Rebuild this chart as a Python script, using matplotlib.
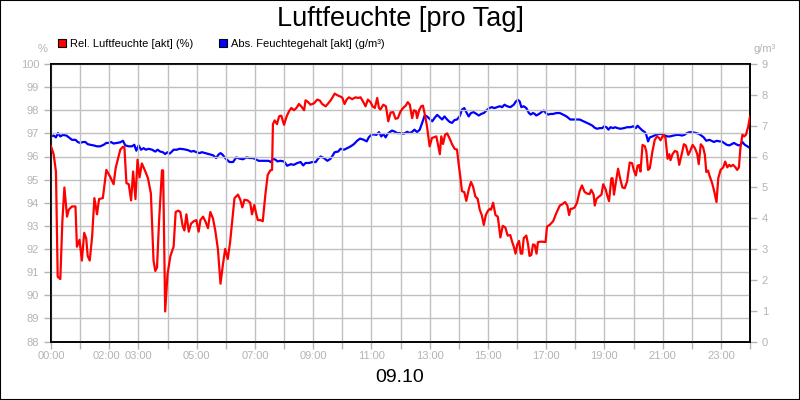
import matplotlib
matplotlib.use('Agg')
from matplotlib import pyplot as plt
from matplotlib.patches import Patch, Rectangle
from matplotlib.transforms import ScaledTranslation

plt.rcParams['font.family'] = ['Liberation Sans', 'DejaVu Sans']

# Rel. Luftfeuchte (%) - hour of day, value
rel_h = [0.0, 0.09, 0.17, 0.23, 0.32, 0.39, 0.46, 0.55, 0.61, 0.72, 0.84, 0.89,
         0.98, 1.06, 1.14, 1.21, 1.26, 1.33, 1.41, 1.49, 1.58, 1.65, 1.78, 1.9,
         2.04, 2.15, 2.22, 2.38, 2.47, 2.52, 2.59, 2.67, 2.75, 2.82, 2.9, 2.97,
         3.04, 3.12, 3.24, 3.33, 3.43, 3.52, 3.58, 3.64, 3.71, 3.81, 3.85, 3.92,
         4.0, 4.1, 4.21, 4.28, 4.37, 4.44, 4.52, 4.58, 4.65, 4.73, 4.81, 4.9,
         4.99, 5.07, 5.13, 5.22, 5.3, 5.39, 5.47, 5.56, 5.64, 5.73, 5.82, 5.9,
         5.98, 6.07, 6.15, 6.3, 6.42, 6.5, 6.57, 6.64, 6.75, 6.84, 6.9, 6.98,
         7.04, 7.1, 7.19, 7.27, 7.36, 7.44, 7.53, 7.59, 7.62, 7.68, 7.76, 7.83,
         7.87, 7.91, 8.0, 8.09, 8.17, 8.25, 8.34, 8.43, 8.51, 8.59, 8.69, 8.74,
         8.82, 8.91, 9.03, 9.14, 9.23, 9.31, 9.43, 9.52, 9.62, 9.74, 9.83, 9.92,
         10.0, 10.08, 10.15, 10.23, 10.34, 10.46, 10.54, 10.63, 10.72, 10.8, 10.88,
         10.97, 11.04, 11.12, 11.2, 11.26, 11.31, 11.41, 11.5, 11.58, 11.66, 11.75,
         11.83, 11.91, 12.0, 12.09, 12.18, 12.25, 12.32, 12.4, 12.46, 12.53, 12.57,
         12.64, 12.71, 12.77, 12.85, 12.91, 13.0, 13.08, 13.16, 13.23, 13.29, 13.35,
         13.4, 13.46, 13.53, 13.6, 13.69, 13.77, 13.86, 13.94, 14.0, 14.06, 14.11,
         14.19, 14.26, 14.34, 14.42, 14.49, 14.57, 14.65, 14.72, 14.79, 14.86,
         14.93, 15.0, 15.07, 15.11, 15.18, 15.26, 15.34, 15.43, 15.51, 15.6, 15.68,
         15.77, 15.83, 15.89, 15.95, 16.01, 16.07, 16.13, 16.18, 16.23, 16.32,
         16.38, 16.43, 16.49, 16.55, 16.61, 16.67, 16.72, 16.84, 16.98, 17.03,
         17.12, 17.24, 17.35, 17.47, 17.56, 17.65, 17.73, 17.79, 17.84, 17.9,
         17.98, 18.06, 18.15, 18.23, 18.32, 18.4, 18.49, 18.55, 18.63, 18.67,
         18.73, 18.82, 18.9, 18.96, 19.05, 19.09, 19.16, 19.24, 19.28, 19.33,
         19.39, 19.47, 19.55, 19.62, 19.7, 19.78, 19.87, 19.95, 20.01, 20.08,
         20.14, 20.19, 20.24, 20.31, 20.39, 20.44, 20.5, 20.56, 20.65, 20.73,
         20.81, 20.88, 20.93, 21.02, 21.1, 21.17, 21.23, 21.27, 21.34, 21.42,
         21.5, 21.57, 21.65, 21.73, 21.8, 21.88, 21.94, 22.03, 22.11, 22.19,
         22.24, 22.31, 22.39, 22.45, 22.5, 22.56, 22.62, 22.7, 22.77, 22.85,
         22.91, 22.99, 23.08, 23.15, 23.22, 23.29, 23.34, 23.42, 23.5, 23.56,
         23.62, 23.67, 23.74, 23.8, 23.86, 23.94, 24.0]
rel_v = [96.44, 96.1, 95.35, 90.8, 90.7, 93.2, 94.66, 93.4, 93.7, 93.84, 93.84, 92.1,
         92.4, 91.5, 92.7, 92.45, 91.7, 91.5, 92.5, 94.2, 93.5, 94.16, 94.2, 95.42,
         95.1, 94.8, 95.5, 96.3, 96.42, 96.4, 94.85, 94.8, 94.1, 95.35, 94.16, 95.86,
         95.1, 95.7, 95.35, 95.06, 94.4, 91.5, 91.05, 91.2, 93.2, 95.4, 95.4, 89.3,
         90.9, 91.7, 92.1, 93.6, 93.66, 93.6, 93.0, 92.8, 93.5, 92.75, 93.1, 93.2,
         93.25, 92.75, 93.25, 93.4, 93.2, 92.9, 93.6, 93.33, 92.8, 92.0, 90.5, 91.3,
         92.0, 91.57, 92.3, 94.2, 94.35, 94.13, 93.8, 94.13, 94.1, 94.0, 93.5, 93.9,
         93.55, 93.25, 93.25, 93.2, 94.35, 95.2, 95.4, 95.42, 97.4, 97.56, 97.4, 97.73,
         97.76, 97.76, 97.37, 97.73, 97.95, 98.1, 98.0, 98.1, 98.27, 98.17, 98.0, 98.43,
         98.36, 98.24, 98.3, 98.46, 98.42, 98.27, 98.17, 98.3, 98.46, 98.72, 98.65,
         98.6, 98.55, 98.27, 98.46, 98.56, 98.48, 98.56, 98.53, 98.56, 98.36, 98.17,
         98.46, 98.35, 98.17, 98.1, 98.53, 98.1, 98.03, 98.24, 98.17, 97.52, 97.9,
         97.92, 97.63, 97.66, 97.95, 98.1, 98.2, 98.35, 98.24, 97.66, 98.0, 97.96,
         97.66, 98.0, 98.17, 98.2, 97.73, 97.3, 96.44, 96.8, 96.84, 96.87, 96.5,
         96.1, 96.87, 96.54, 96.94, 97.0, 96.77, 96.53, 96.33, 96.3, 95.64, 95.06,
         94.5, 94.46, 94.08, 94.56, 94.9, 94.7, 94.27, 94.17, 93.7, 93.47, 93.04,
         93.47, 93.65, 93.74, 93.7, 94.0, 93.47, 93.4, 92.5, 93.0, 92.93, 92.58,
         92.6, 92.32, 92.1, 91.8, 92.2, 92.35, 91.8, 91.8, 92.47, 92.58, 92.2,
         91.7, 91.74, 92.2, 92.17, 91.8, 92.3, 92.32, 92.3, 92.97, 93.04, 93.2,
         93.55, 93.88, 93.94, 94.03, 93.88, 93.47, 93.74, 93.74, 93.8, 94.0, 94.5,
         94.75, 94.47, 94.4, 94.37, 94.56, 94.36, 93.88, 94.17, 94.27, 94.35, 94.8,
         94.56, 94.35, 94.07, 95.06, 95.06, 94.35, 94.85, 95.47, 95.0, 94.66, 94.63,
         94.92, 95.74, 95.71, 95.42, 95.18, 95.6, 95.63, 95.35, 96.5, 96.44, 96.22,
         95.42, 95.49, 96.22, 96.72, 96.87, 96.8, 96.7, 96.94, 96.8, 95.9, 96.1,
         95.84, 96.1, 96.24, 96.2, 95.64, 96.07, 96.53, 96.47, 96.07, 96.22, 96.5,
         96.36, 96.1, 95.67, 96.53, 96.4, 96.07, 95.33, 95.39, 95.13, 94.85, 94.5,
         94.03, 95.06, 95.42, 95.53, 95.78, 95.53, 95.64, 95.57, 95.64, 95.53,
         95.42, 95.53, 96.36, 96.94, 96.87, 96.94, 97.3, 97.73]

# Abs. Feuchtegehalt (g/m³)
abs_h = [0.0, 0.09, 0.17, 0.24, 0.32, 0.41, 0.53, 0.61, 0.72, 0.84, 0.92, 1.0,
         1.1, 1.18, 1.26, 1.35, 1.46, 1.58, 1.69, 1.81, 1.9, 1.98, 2.06, 2.15,
         2.27, 2.38, 2.47, 2.55, 2.67, 2.78, 2.86, 2.93, 3.01, 3.09, 3.18, 3.26,
         3.35, 3.47, 3.58, 3.66, 3.75, 3.84, 3.92, 4.0, 4.07, 4.15, 4.21, 4.32,
         4.41, 4.53, 4.64, 4.72, 4.81, 4.9, 4.99, 5.1, 5.18, 5.3, 5.41, 5.49,
         5.58, 5.67, 5.75, 5.82, 5.89, 5.98, 6.13, 6.25, 6.36, 6.48, 6.59, 6.71,
         6.82, 6.94, 7.05, 7.13, 7.24, 7.36, 7.47, 7.55, 7.62, 7.7, 7.78, 7.87,
         8.0, 8.11, 8.23, 8.34, 8.46, 8.57, 8.66, 8.74, 8.86, 8.97, 9.09, 9.17,
         9.26, 9.37, 9.49, 9.6, 9.69, 9.74, 9.86, 9.94, 10.06, 10.17, 10.29,
         10.4, 10.51, 10.61, 10.72, 10.84, 10.91, 10.99, 11.08, 11.17, 11.26,
         11.34, 11.41, 11.49, 11.55, 11.63, 11.71, 11.77, 11.89, 12.0, 12.11,
         12.23, 12.32, 12.4, 12.48, 12.57, 12.66, 12.74, 12.83, 12.91, 13.0,
         13.09, 13.17, 13.26, 13.35, 13.43, 13.51, 13.6, 13.69, 13.77, 13.85,
         13.94, 14.03, 14.11, 14.19, 14.26, 14.34, 14.42, 14.51, 14.61, 14.69,
         14.77, 14.86, 14.95, 15.04, 15.14, 15.22, 15.31, 15.41, 15.49, 15.57,
         15.66, 15.77, 15.89, 15.95, 16.03, 16.09, 16.15, 16.23, 16.32, 16.41,
         16.47, 16.55, 16.61, 16.66, 16.76, 16.84, 16.92, 16.99, 17.07, 17.15,
         17.24, 17.35, 17.47, 17.58, 17.7, 17.83, 17.92, 18.03, 18.15, 18.24,
         18.36, 18.47, 18.59, 18.67, 18.75, 18.84, 18.93, 18.99, 19.07, 19.14,
         19.21, 19.3, 19.37, 19.45, 19.55, 19.67, 19.78, 19.9, 19.99, 20.08,
         20.14, 20.22, 20.31, 20.39, 20.44, 20.5, 20.56, 20.65, 20.76, 20.88,
         21.0, 21.08, 21.16, 21.25, 21.37, 21.48, 21.58, 21.66, 21.74, 21.84,
         21.93, 22.05, 22.16, 22.25, 22.33, 22.41, 22.5, 22.6, 22.68, 22.76,
         22.86, 22.95, 23.03, 23.11, 23.2, 23.29, 23.37, 23.45, 23.52, 23.6,
         23.68, 23.74, 23.82, 23.91, 24.0]
abs_v = [6.65, 6.68, 6.62, 6.76, 6.65, 6.7, 6.68, 6.62, 6.54, 6.54, 6.47, 6.44,
         6.47, 6.47, 6.4, 6.38, 6.36, 6.33, 6.33, 6.38, 6.44, 6.44, 6.47, 6.42,
         6.44, 6.46, 6.51, 6.36, 6.33, 6.33, 6.38, 6.19, 6.36, 6.22, 6.27, 6.22,
         6.25, 6.22, 6.16, 6.22, 6.16, 6.14, 6.08, 6.14, 6.09, 6.16, 6.22, 6.22,
         6.25, 6.24, 6.22, 6.2, 6.16, 6.18, 6.14, 6.11, 6.14, 6.11, 6.08, 6.06,
         6.03, 5.95, 6.06, 6.11, 6.06, 5.95, 5.82, 5.82, 5.97, 5.93, 5.91, 5.97,
         5.95, 5.95, 5.9, 5.86, 5.86, 5.86, 5.86, 5.82, 5.93, 5.9, 5.84, 5.86,
         5.84, 5.7, 5.75, 5.73, 5.79, 5.82, 5.71, 5.79, 5.79, 5.82, 5.82, 5.93,
         6.0, 5.95, 5.86, 5.93, 6.06, 6.14, 6.16, 6.25, 6.22, 6.27, 6.33, 6.4,
         6.51, 6.58, 6.55, 6.49, 6.62, 6.7, 6.72, 6.7, 6.79, 6.65, 6.73, 6.62,
         6.73, 6.79, 6.84, 6.82, 6.76, 6.76, 6.74, 6.8, 6.76, 6.8, 6.87, 6.79,
         6.87, 7.08, 7.33, 7.3, 7.22, 7.14, 7.25, 7.35, 7.27, 7.2, 7.3, 7.2,
         7.12, 7.09, 7.18, 7.2, 7.3, 7.52, 7.57, 7.44, 7.3, 7.41, 7.44, 7.38,
         7.33, 7.38, 7.41, 7.49, 7.57, 7.6, 7.57, 7.6, 7.63, 7.6, 7.68, 7.63,
         7.6, 7.68, 7.77, 7.84, 7.79, 7.6, 7.63, 7.57, 7.41, 7.36, 7.41, 7.38,
         7.33, 7.38, 7.44, 7.49, 7.41, 7.36, 7.38, 7.38, 7.41, 7.41, 7.36, 7.3,
         7.2, 7.2, 7.2, 7.2, 7.16, 7.11, 7.06, 7.0, 6.93, 6.9, 6.92, 6.92,
         6.98, 6.95, 6.87, 6.95, 6.92, 6.95, 6.92, 6.9, 6.92, 6.95, 6.95, 6.98,
         6.92, 7.0, 6.92, 6.84, 6.79, 6.7, 6.49, 6.62, 6.65, 6.7, 6.73, 6.73,
         6.68, 6.65, 6.65, 6.68, 6.7, 6.7, 6.68, 6.7, 6.76, 6.79, 6.78, 6.76,
         6.73, 6.68, 6.62, 6.51, 6.54, 6.51, 6.47, 6.51, 6.49, 6.49, 6.44, 6.38,
         6.36, 6.4, 6.44, 6.4, 6.36, 6.38, 6.47, 6.38, 6.33, 6.27]

x_ticks = list(range(25))
x_labels = ['00:00', '', '02:00', '03:00', '', '05:00', '', '07:00', '', '09:00', '',
            '11:00', '', '13:00', '', '15:00', '', '17:00', '', '19:00', '', '21:00',
            '', '23:00', '']

gray = '#b4b4b4'

fig = plt.figure(figsize=(8, 4), dpi=100)
fig.patches.append(Rectangle((0, 0), 1, 1, transform=fig.transFigure, fill=False,
                             edgecolor='black', linewidth=1.5))

ax = fig.add_axes([51 / 800, 1 - 341.5 / 400, 699 / 800, 277.5 / 400])
ax2 = ax.twinx()

ax.plot(rel_h, rel_v, color='#ff0000', linewidth=1.6, zorder=3)
ax2.plot(abs_h, abs_v, color='#0000ff', linewidth=1.6, zorder=2)
ax.set_zorder(ax2.get_zorder() + 1)
ax.patch.set_visible(False)

ax.set_xlim(0, 24)
ax.set_ylim(88, 100)
ax2.set_ylim(0, 9)
ax.set_xticks(x_ticks)
ax.set_xticklabels(x_labels)
ax.set_yticks(range(88, 101))
ax2.set_yticks(range(0, 10))

ax.grid(True, color='#c0c0c0', linewidth=1)
for a in (ax, ax2):
    a.tick_params(colors=gray, labelcolor=gray, labelsize=8, length=5, width=1)
    for s in a.spines.values():
        s.set_color('black')
        s.set_linewidth(1.2)
ax.tick_params(axis='x', pad=2)
# the 02:00 label sits a little left of its tick in the original
lab = ax.xaxis.get_major_ticks()[2].label1
lab.set_transform(lab.get_transform() + ScaledTranslation(-3 / 100, 0, fig.dpi_scale_trans))

fig.text(0.5, 0.953, 'Luftfeuchte [pro Tag]', ha='center', va='center', fontsize=19.5)
fig.text(0.5, 0.055, '09.10', ha='center', va='center', fontsize=14)
fig.text(43 / 800, 1 - 49 / 400, '%', ha='center', va='center', fontsize=8, color=gray)
fig.text(765 / 800, 1 - 49 / 400, 'g/m³', ha='center', va='center', fontsize=8, color=gray)

handles = [Patch(facecolor='#ff0000', edgecolor='black', linewidth=0.8),
           Patch(facecolor='#0000ff', edgecolor='black', linewidth=0.8)]
fig.legend(handles, ['Rel. Luftfeuchte [akt] (%)', 'Abs. Feuchtegehalt [akt] (g/m³)'],
           loc='center left', bbox_to_anchor=(58 / 800, 1 - 44 / 400), ncol=2,
           frameon=False, fontsize=8, handlelength=0.75, handleheight=0.75,
           handletextpad=0.35, columnspacing=2.3, borderpad=0, borderaxespad=0)

fig.savefig('out.png', dpi=100)
